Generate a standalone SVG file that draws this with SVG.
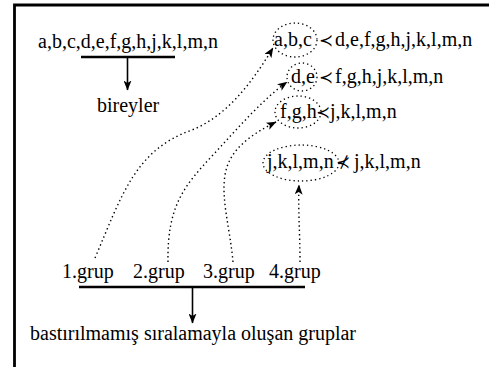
<svg xmlns="http://www.w3.org/2000/svg" width="489" height="367" viewBox="0 0 489 367">
<style>
.t{font-family:'Liberation Serif','Times New Roman','DejaVu Serif',serif;font-size:20px;fill:#000}
.sym{font-family:'DejaVu Sans','DejaVu Serif',sans-serif;font-size:17px;fill:#000}
.solid{fill:none;stroke:#000;stroke-width:1.6}
.bar{fill:none;stroke:#000;stroke-width:2.4}
.dot{fill:none;stroke:#000;stroke-width:1.4;stroke-dasharray:1.4 3;stroke-linecap:butt}
.ell{fill:none;stroke:#000;stroke-width:1.3;stroke-dasharray:1.3 3}
</style>
<defs>
<marker id="ah" markerUnits="userSpaceOnUse" viewBox="0 0 10 8" refX="9.5" refY="4" markerWidth="10" markerHeight="8" orient="auto">
<path d="M0,0 L10,4 L0,8 L2.5,4 z" fill="#000" stroke="none"/>
</marker>
</defs>
<path d="M14.5,367 V5 H489" fill="none" stroke="#000" stroke-width="2.8"/>

<g id="individuals">
<text class="t" x="38" y="48">a,b,c,d,e,f,g,h,j,k,l,m,n</text>
<line class="bar" x1="81" y1="57" x2="175" y2="57"/>
</g>
<g id="bireyler"><text class="t" x="97" y="112">bireyler</text></g>

<g id="group-abc">
<ellipse class="ell" cx="295" cy="40" rx="22" ry="17"/>
<text class="t" x="274" y="46">a,b,c</text>
<text class="sym" x="319" y="46">≺</text>
<text class="t" x="335" y="46">d,e,f,g,h,j,k,l,m,n</text>
</g>
<g id="group-de">
<ellipse class="ell" cx="302" cy="77" rx="15" ry="14"/>
<text class="t" x="291" y="83">d,e</text>
<text class="sym" x="319" y="83">≺</text>
<text class="t" x="335" y="83">f,g,h,j,k,l,m,n</text>
</g>
<g id="group-fgh">
<ellipse class="ell" cx="298" cy="112" rx="23" ry="16"/>
<text class="t" x="280" y="118">f,g,h</text>
<text class="sym" x="316" y="118">≺</text>
<text class="t" x="330" y="118">j,k,l,m,n</text>
</g>
<g id="group-jklmn">
<ellipse class="ell" cx="301" cy="163" rx="38" ry="18"/>
<text class="t" x="267" y="168">j,k,l,m,n</text>
<text class="sym" x="336" y="168">⊀</text>
<text class="t" x="354" y="168">j,k,l,m,n</text>
</g>

<g id="groups">
<text class="t" x="62" y="278">1.grup</text>
<text class="t" x="133" y="278">2.grup</text>
<text class="t" x="203" y="278">3.grup</text>
<text class="t" x="269" y="278">4.grup</text>
<line class="bar" x1="79" y1="287" x2="305" y2="287"/>
</g>
<g id="result"><text class="t" x="30" y="340">bastırılmamış sıralamayla oluşan gruplar</text></g>

<g id="connectors">
<line class="solid" x1="127.5" y1="58" x2="127.5" y2="90" marker-end="url(#ah)"/>
<line class="solid" x1="192.5" y1="288" x2="192.5" y2="323" marker-end="url(#ah)"/>
<path class="dot" d="M95,258 C122,195 135,150 192,130 C232,114 258,72 273,48" marker-end="url(#ah)"/>
<path class="dot" d="M168,262 C167,205 185,185 213,155 C238,128 262,100 287,82" marker-end="url(#ah)"/>
<path class="dot" d="M233,262 C230,228 221,200 225,175 C229,150 250,135 276,122" marker-end="url(#ah)"/>
<path class="dot" d="M300,262 C300,232 298,210 299,185" marker-end="url(#ah)"/>
</g>
</svg>
